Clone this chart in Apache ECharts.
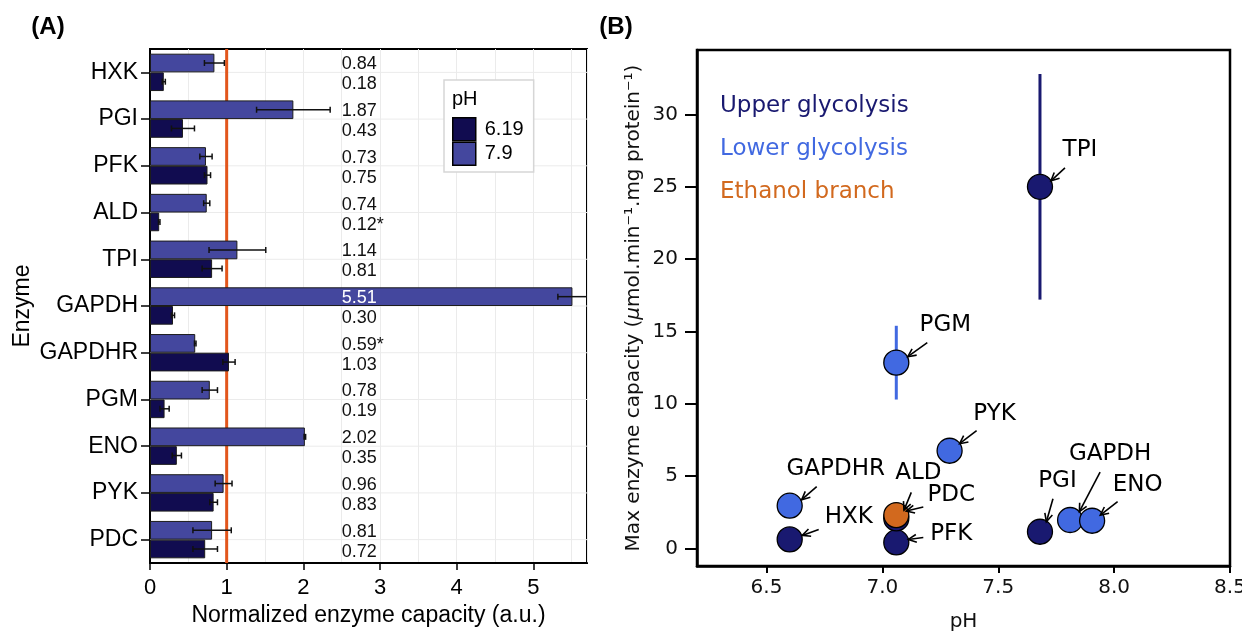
<!DOCTYPE html>
<html>
<head>
<meta charset="utf-8">
<title>Enzyme capacity vs pH</title>
<script src="https://cdn.jsdelivr.net/npm/echarts@6.0.0/dist/echarts.min.js"></script>
<style>
  html, body { margin: 0; padding: 0; background: #fff; }
  #chart { width: 1242px; height: 631px; }
</style>
</head>
<body>
<div id="chart"></div>
<script>
// ---------- Panel A: normalized enzyme capacity at two pH values ----------
const enzymes = ['HXK', 'PGI', 'PFK', 'ALD', 'TPI', 'GAPDH', 'GAPDHR', 'PGM', 'ENO', 'PYK', 'PDC'];
const cap79  = [0.84, 1.87, 0.73, 0.74, 1.14, 5.51, 0.59, 0.78, 2.02, 0.96, 0.81];
const err79  = [0.13, 0.48, 0.08, 0.04, 0.37, 0.19, 0.01, 0.10, 0.01, 0.11, 0.25];
const star79 = [0, 0, 0, 0, 0, 0, 1, 0, 0, 0, 0];
const cap619  = [0.18, 0.43, 0.75, 0.12, 0.81, 0.30, 1.03, 0.19, 0.35, 0.83, 0.72];
const err619  = [0.02, 0.15, 0.04, 0.01, 0.13, 0.02, 0.08, 0.06, 0.06, 0.05, 0.16];
const star619 = [0, 0, 0, 1, 0, 0, 0, 0, 0, 0, 0];
const phLevels = ['6.19', '7.9'];
const referenceLevel = 1;
const xTicksA = [0, 1, 2, 3, 4, 5];

// ---------- Panel B: max capacity vs pH optimum ----------
const groupNames = ['Upper glycolysis', 'Lower glycolysis', 'Ethanol branch'];
const upperNames = ['HXK', 'PFK', 'ALD', 'TPI', 'PGI'];
const upperPH    = [6.60, 7.06, 7.06, 7.68, 7.68];
const upperCap   = [0.62, 0.41, 2.07, 25.0, 1.15];
const upperErr   = [0.30, 0.20, 0.30, 7.8, 0.30];
const lowerNames = ['GAPDHR', 'PGM', 'PYK', 'GAPDH', 'ENO'];
const lowerPH    = [6.60, 7.06, 7.29, 7.81, 7.905];
const lowerCap   = [2.95, 12.84, 6.75, 1.96, 1.91];
const lowerErr   = [0.30, 2.55, 0.40, 0.30, 0.20];
const ethanolNames = ['PDC'];
const ethanolPH    = [7.06];
const ethanolCap   = [2.30];
const ethanolErr   = [0.30];
const xTicksB = [6.5, 7.0, 7.5, 8.0, 8.5];
const yTicksB = [0, 5, 10, 15, 20, 25, 30];

// ---------- styling ----------
const FONT_A = '"Liberation Sans", Arial, sans-serif';
const FONT_B = '"DejaVu Sans", sans-serif';
const COLOR_79 = '#44479e';
const COLOR_619 = '#110c50';
const COLOR_REF = '#e2561c';
const GRID_GREY = '#ebebeb';
const GROUP_COLORS = ['#191970', '#4169e1', '#d2691e'];
const X_MAX_A = 5.7;
const LABEL_X = 2.5;

// label / arrow placement in pixels relative to each point
const annotationLayout = {
  TPI:    { text: [40, -37],   tail: [25, -19],   head: [11, -6] },
  PGM:    { text: [49, -38],   tail: [31, -20],   head: [11.5, -6] },
  PYK:    { text: [45, -37],   tail: [27, -20],   head: [10, -7] },
  GAPDHR: { text: [46, -37],   tail: [27, -19],   head: [12, -6] },
  HXK:    { text: [59, -22],   tail: [29, -10],   head: [12.5, -4] },
  ALD:    { text: [22, -45],   tail: [15, -26],   head: [7.7, -8.3] },
  PDC:    { text: [55, -20],   tail: [27, -8],    head: [10, -4] },
  PFK:    { text: [55, -8],    tail: [27, -5],    head: [12, -3] },
  PGI:    { text: [17.5, -51], tail: [13, -33],   head: [6.4, -10] },
  GAPDH:  { text: [40, -66],   tail: [30, -48],   head: [9.3, -8.3] },
  ENO:    { text: [45.5, -36], tail: [25.5, -19], head: [8.2, -5.7] }
};

function valueText(v, star) { return v.toFixed(2) + (star ? '*' : ''); }

// horizontal error bars, side -1 = upper bar of the pair, +1 = lower bar
function barErrorSeries(values, errs, side) {
  return {
    type: 'custom', xAxisIndex: 0, yAxisIndex: 0, z: 4, silent: true, clip: true,
    data: values.map((v, i) => [v, i, errs[i]]),
    renderItem(params, api) {
      const v = api.value(0), i = api.value(1), e = api.value(2);
      const band = api.size([0, 1])[1];
      const a = api.coord([v - e, i]);
      const b = api.coord([v + e, i]);
      const y = a[1] + side * band * 0.2;
      const st = { stroke: '#111', lineWidth: 1.5 };
      return {
        type: 'group', children: [
          { type: 'line', shape: { x1: a[0], y1: y, x2: b[0], y2: y }, style: st },
          { type: 'line', shape: { x1: a[0], y1: y - 3, x2: a[0], y2: y + 3 }, style: st },
          { type: 'line', shape: { x1: b[0], y1: y - 3, x2: b[0], y2: y + 3 }, style: st }
        ]
      };
    }
  };
}

// value labels placed in a column at LABEL_X
function valueLabelSeries(values, stars, dy) {
  return {
    type: 'custom', xAxisIndex: 0, yAxisIndex: 0, z: 5, silent: true, clip: false,
    data: values.map((v, i) => [v, i]),
    renderItem(params, api) {
      const v = api.value(0), i = api.value(1);
      const p = api.coord([LABEL_X, i]);
      const inside = v > LABEL_X;
      return {
        type: 'text', x: p[0], y: p[1] + dy,
        style: {
          text: valueText(v, stars[i]),
          fill: inside ? '#fff' : '#111',
          font: '18px ' + FONT_A,
          align: 'left', verticalAlign: 'middle',
          textAlign: 'left', textVerticalAlign: 'middle'
        }
      };
    }
  };
}

// vertical error bars for panel B
function pointErrorSeries(xs, ys, errs, color) {
  return {
    type: 'custom', xAxisIndex: 1, yAxisIndex: 1, z: 2, silent: true,
    data: xs.map((x, i) => [x, ys[i], errs[i]]),
    renderItem(params, api) {
      const x = api.value(0), y = api.value(1), e = api.value(2);
      const a = api.coord([x, y - e]);
      const b = api.coord([x, y + e]);
      return { type: 'line', shape: { x1: a[0], y1: a[1], x2: b[0], y2: b[1] },
               style: { stroke: color, lineWidth: 3 } };
    }
  };
}

function scatterSeries(name, xs, ys, color) {
  return {
    name, type: 'scatter', xAxisIndex: 1, yAxisIndex: 1, z: 3, silent: true,
    data: xs.map((x, i) => [x, ys[i]]),
    symbol: 'circle', symbolSize: 25,
    itemStyle: { color, borderColor: '#000', borderWidth: 1.3, opacity: 1 }
  };
}

const allNames = upperNames.concat(lowerNames, ethanolNames);
const allPH = upperPH.concat(lowerPH, ethanolPH);
const allCap = upperCap.concat(lowerCap, ethanolCap);

function arrowParts(p, lay) {
  const tx = p[0] + lay.tail[0], ty = p[1] + lay.tail[1];
  const hx = p[0] + lay.head[0], hy = p[1] + lay.head[1];
  const ang = Math.atan2(hy - ty, hx - tx);
  const L = 9, w = 0.45;
  const w1 = [hx - L * Math.cos(ang - w), hy - L * Math.sin(ang - w)];
  const w2 = [hx - L * Math.cos(ang + w), hy - L * Math.sin(ang + w)];
  const st = { stroke: '#000', lineWidth: 1.6, fill: null };
  return [
    { type: 'line', shape: { x1: tx, y1: ty, x2: hx, y2: hy }, style: st },
    { type: 'polyline', shape: { points: [w1, [hx, hy], w2] }, style: st }
  ];
}

const annotationSeries = {
  type: 'custom', xAxisIndex: 1, yAxisIndex: 1, z: 6, silent: true, clip: false,
  data: allPH.map((x, i) => [x, allCap[i]]),
  renderItem(params, api) {
    const name = allNames[params.dataIndex];
    const lay = annotationLayout[name];
    const p = api.coord([api.value(0), api.value(1)]);
    const children = arrowParts(p, lay);
    children.push({
      type: 'text', x: p[0] + lay.text[0], y: p[1] + lay.text[1],
      style: {
        text: name, fill: '#000', font: '23px ' + FONT_B,
        align: 'center', verticalAlign: 'middle',
        textAlign: 'center', textVerticalAlign: 'middle'
      }
    });
    return { type: 'group', children };
  }
};

// category gridlines and the reference line at 1 for panel A
const rowGridSeries = {
  type: 'custom', xAxisIndex: 0, yAxisIndex: 0, z: 1, silent: true,
  data: enzymes.map((_, i) => [0, i]),
  renderItem(params, api) {
    const p = api.coord([0, api.value(1)]);
    const cs = params.coordSys;
    return { type: 'line', shape: { x1: cs.x, y1: p[1], x2: cs.x + cs.width, y2: p[1] },
             style: { stroke: GRID_GREY, lineWidth: 1 } };
  }
};
const refLineSeries = {
  type: 'custom', xAxisIndex: 0, yAxisIndex: 0, z: 2, silent: true,
  data: [[referenceLevel, 0]],
  renderItem(params, api) {
    const p = api.coord([api.value(0), 0]);
    const cs = params.coordSys;
    return { type: 'line', shape: { x1: p[0], y1: cs.y, x2: p[0], y2: cs.y + cs.height },
             style: { stroke: COLOR_REF, lineWidth: 3 } };
  }
};

function plainText(x, y, text, font, fill, align) {
  return { type: 'text', x, y, z: 100,
           style: { text, font, fill, align, verticalAlign: 'middle', textAlign: align, textVerticalAlign: 'middle' } };
}

const chart = echarts.init(document.getElementById('chart'), null, { renderer: 'canvas' });

const option = {
  animation: false,
  backgroundColor: '#fff',
  grid: [
    { left: 150, top: 49, width: 437, height: 514, show: true, borderColor: '#000', borderWidth: 2,
      backgroundColor: '#fff', containLabel: false, outerBoundsMode: 'none' },
    { left: 697, top: 50, width: 533, height: 516, show: true, borderColor: '#000', borderWidth: 2.5,
      backgroundColor: 'transparent', containLabel: false, outerBoundsMode: 'none' }
  ],
  legend: {
    data: phLevels, orient: 'vertical', left: 444, top: 80,
    padding: [37, 10, 6, 8], itemGap: 0, itemWidth: 23, itemHeight: 23,
    icon: 'rect', selectedMode: false,
    borderColor: '#d6d6d6', borderWidth: 1.5, backgroundColor: '#fff',
    itemStyle: { borderColor: '#000', borderWidth: 1.5 },
    textStyle: { fontSize: 20, fontFamily: FONT_A, color: '#000', padding: [0, 0, 0, 4] }
  },
  xAxis: [
    {
      type: 'value', gridIndex: 0, min: 0, max: X_MAX_A, interval: 1,
      axisLine: { show: true, onZero: false, lineStyle: { color: '#000', width: 2 } },
      axisTick: { show: true, length: 7, lineStyle: { color: '#000', width: 1.5 } },
      axisLabel: { fontSize: 22, color: '#000', fontFamily: FONT_A, margin: 14, showMaxLabel: false,
                   formatter: v => (xTicksA.indexOf(v) >= 0 ? String(v) : '') },
      splitLine: { show: true, lineStyle: { color: GRID_GREY, width: 1 } },
      minorTick: { show: false, splitNumber: 2 },
      minorSplitLine: { show: true, lineStyle: { color: GRID_GREY, width: 1 } },
      name: 'Normalized enzyme capacity (a.u.)', nameLocation: 'middle', nameGap: 36,
      nameTextStyle: { fontSize: 23, color: '#000', fontFamily: FONT_A }
    },
    {
      type: 'value', gridIndex: 1, min: 6.2, max: 8.5,
      axisLine: { show: true, onZero: false, lineStyle: { color: '#000', width: 2.5 } },
      axisTick: { show: true, length: 7, customValues: xTicksB, lineStyle: { color: '#000', width: 2 } },
      axisLabel: { customValues: xTicksB, formatter: v => v.toFixed(1), fontSize: 20, color: '#111', fontFamily: FONT_B, margin: 12 },
      splitLine: { show: false },
      name: 'pH', nameLocation: 'middle', nameGap: 46,
      nameTextStyle: { fontSize: 20, color: '#111', fontFamily: FONT_B }
    }
  ],
  yAxis: [
    {
      type: 'category', gridIndex: 0, data: enzymes, inverse: true,
      axisLine: { show: true, onZero: false, lineStyle: { color: '#000', width: 2 } },
      axisTick: { show: true, alignWithLabel: true, length: 9, lineStyle: { color: '#000', width: 1.5 } },
      axisLabel: { fontSize: 23, color: '#000', fontFamily: FONT_A, margin: 12 },
      splitLine: { show: false },
      name: 'Enzyme', nameLocation: 'middle', nameGap: 116, nameRotate: 90,
      nameTextStyle: { fontSize: 23, color: '#000', fontFamily: FONT_A }
    },
    {
      type: 'value', gridIndex: 1, min: -1.22, max: 34.46,
      axisLine: { show: true, onZero: false, lineStyle: { color: '#000', width: 2.5 } },
      axisTick: { show: true, length: 12, customValues: yTicksB, lineStyle: { color: '#000', width: 2 } },
      axisLabel: { customValues: yTicksB, fontSize: 20, color: '#111', fontFamily: FONT_B, margin: 19 },
      splitLine: { show: false },
      name: '{n|Max enzyme capacity (}{i|μ}{n|mol.min⁻¹.mg protein⁻¹)}',
      nameLocation: 'middle', nameGap: 53, nameRotate: 90,
      nameTextStyle: {
        color: '#111', fontFamily: FONT_B, fontSize: 20,
        rich: {
          n: { fontSize: 20, fontFamily: FONT_B, color: '#111' },
          i: { fontSize: 20, fontFamily: FONT_B, fontStyle: 'italic', color: '#111' }
        }
      }
    }
  ],
  graphic: [
    plainText(48, 27, '(A)', 'bold 24px ' + FONT_A, '#000', 'center'),
    plainText(616, 27, '(B)', 'bold 24px ' + FONT_A, '#000', 'center'),
    plainText(452, 99, 'pH', '20px ' + FONT_A, '#000', 'left'),
    plainText(720, 106, groupNames[0], '23px ' + FONT_B, GROUP_COLORS[0], 'left'),
    plainText(720, 149, groupNames[1], '23px ' + FONT_B, GROUP_COLORS[1], 'left'),
    plainText(720, 192, groupNames[2], '23px ' + FONT_B, GROUP_COLORS[2], 'left')
  ],
  series: [
    rowGridSeries,
    refLineSeries,
    {
      name: '7.9', type: 'bar', xAxisIndex: 0, yAxisIndex: 0, z: 3, silent: true,
      data: cap79, barWidth: '40%', barGap: '0%',
      itemStyle: { color: COLOR_79, borderColor: '#1c1c1c', borderWidth: 1 }
    },
    {
      name: '6.19', type: 'bar', xAxisIndex: 0, yAxisIndex: 0, z: 3, silent: true,
      data: cap619, barWidth: '40%', barGap: '0%',
      itemStyle: { color: COLOR_619, borderColor: '#1c1c1c', borderWidth: 1 }
    },
    barErrorSeries(cap79, err79, -1),
    barErrorSeries(cap619, err619, 1),
    valueLabelSeries(cap79, star79, -8),
    valueLabelSeries(cap619, star619, 12),
    pointErrorSeries(upperPH, upperCap, upperErr, GROUP_COLORS[0]),
    pointErrorSeries(lowerPH, lowerCap, lowerErr, GROUP_COLORS[1]),
    pointErrorSeries(ethanolPH, ethanolCap, ethanolErr, GROUP_COLORS[2]),
    scatterSeries(groupNames[0], upperPH, upperCap, GROUP_COLORS[0]),
    scatterSeries(groupNames[1], lowerPH, lowerCap, GROUP_COLORS[1]),
    scatterSeries(groupNames[2], ethanolPH, ethanolCap, GROUP_COLORS[2]),
    annotationSeries
  ]
};

chart.setOption(option);
</script>
</body>
</html>
